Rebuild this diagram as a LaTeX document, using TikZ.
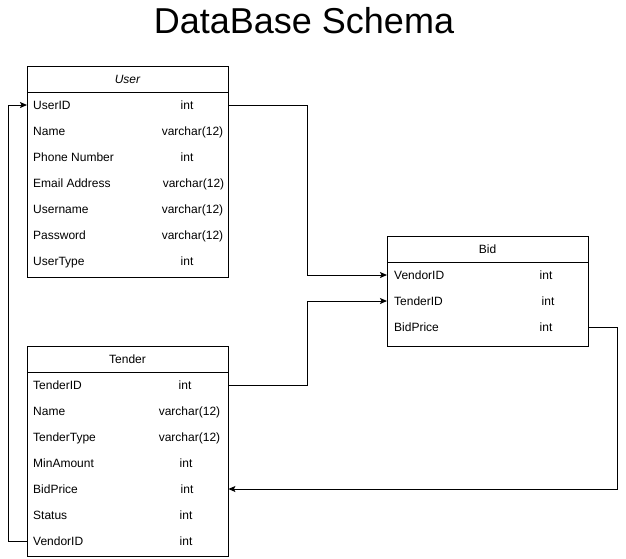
\documentclass[tikz,border=0pt]{standalone}
\usepackage{fontspec}
\setmainfont{Liberation Sans}
\usetikzlibrary{arrows.meta}
\begin{document}
\begin{tikzpicture}[x=1pt,y=-1pt,
  tbl/.style={draw, line width=1pt, minimum width=201pt, anchor=north west, inner sep=0pt},
  rowcell/.style={minimum width=201pt, minimum height=26pt, inner sep=0pt, anchor=west},
  txt/.style={inner sep=0pt, text height=10.2pt, text depth=1.6pt, font=\fontsize{12}{14}\selectfont},
  fname/.style={txt, anchor=west},
  ftype/.style={txt},
  hdr/.style={txt},
  conn/.style={line width=1pt, -{Stealth[length=7pt,width=6pt,inset=1.5pt]}}
]
\useasboundingbox (0,0) rectangle (626,558);
\node[font=\fontsize{36}{40}\selectfont, inner sep=0pt] (title) at (304,21) {DataBase Schema};

% User table
\node[tbl, minimum height=211pt] (user) at (27,66) {};
\draw[line width=1pt] (27,92) -- (228,92);
\node[hdr, font=\fontsize{12}{14}\selectfont\itshape] (userh) at (127.5,79) {User};
\node[rowcell] (uid) at (27,105) {};
\node[fname] (uidn) at (33,105) {UserID};       \node[ftype] (uidt) at (187,105) {int};
\node[fname] (unamen) at (33,131) {Name};       \node[ftype] (unamet) at (192.5,131) {varchar(12)};
\node[fname] (uphn) at (33,157) {Phone Number}; \node[ftype] (upht) at (187,157) {int};
\node[fname] (uemn) at (33,183) {Email Address};\node[ftype] (uemt) at (193.5,183) {varchar(12)};
\node[fname] (uusn) at (33,209) {Username};     \node[ftype] (uust) at (192.5,209) {varchar(12)};
\node[fname] (upwn) at (33,235) {Password};     \node[ftype] (upwt) at (192.5,235) {varchar(12)};
\node[fname] (utyn) at (33,261) {UserType};     \node[ftype] (utyt) at (187,261) {int};

% Tender table
\node[tbl, minimum height=210pt] (tender) at (27,346) {};
\draw[line width=1pt] (27,372) -- (228,372);
\node[hdr] (tenderh) at (127.5,359) {Tender};
\node[rowcell] (tid) at (27,385) {};
\node[rowcell] (tbp) at (27,489) {};
\node[rowcell] (tvid) at (27,541) {};
\node[fname] (tidn) at (33,385) {TenderID};     \node[ftype] (tidt) at (185,385) {int};
\node[fname] (tnamen) at (33,411) {Name};       \node[ftype] (tnamet) at (189.5,411) {varchar(12)};
\node[fname] (ttyn) at (33,437) {TenderType};   \node[ftype] (ttyt) at (189.5,437) {varchar(12)};
\node[fname] (tman) at (33,463) {MinAmount};    \node[ftype] (tmat) at (186,463) {int};
\node[fname] (tbpn) at (33,489) {BidPrice};     \node[ftype] (tbpt) at (187,489) {int};
\node[fname] (tstn) at (33,515) {Status};       \node[ftype] (tstt) at (186,515) {int};
\node[fname] (tvidn) at (33,541) {VendorID};    \node[ftype] (tvidt) at (186,541) {int};

% Bid table
\node[tbl, minimum height=110pt] (bid) at (387,236) {};
\draw[line width=1pt] (387,262) -- (588,262);
\node[hdr] (bidh) at (487.5,249) {Bid};
\node[rowcell] (bvid) at (387,275) {};
\node[rowcell] (btid) at (387,301) {};
\node[rowcell] (bbp) at (387,327) {};
\node[fname] (bvidn) at (394,275) {VendorID};   \node[ftype] (bvidt) at (546,275) {int};
\node[fname] (btidn) at (394,301) {TenderID};   \node[ftype] (btidt) at (548,301) {int};
\node[fname] (bbpn) at (394,327) {BidPrice};    \node[ftype] (bbpt) at (546,327) {int};

% routing columns
\coordinate (xa) at (307,0);
\coordinate (xb) at (617,0);
\coordinate (xc) at (8,0);

\draw[conn] (uid.east) -- (uid.east -| xa) |- (bvid.west);
\draw[conn] (tid.east) -- (tid.east -| xa) |- (btid.west);
\draw[conn] (bbp.east) -- (bbp.east -| xb) |- (tbp.east);
\draw[conn] (tvid.west) -- (tvid.west -| xc) |- (uid.west);
\end{tikzpicture}
\end{document}
